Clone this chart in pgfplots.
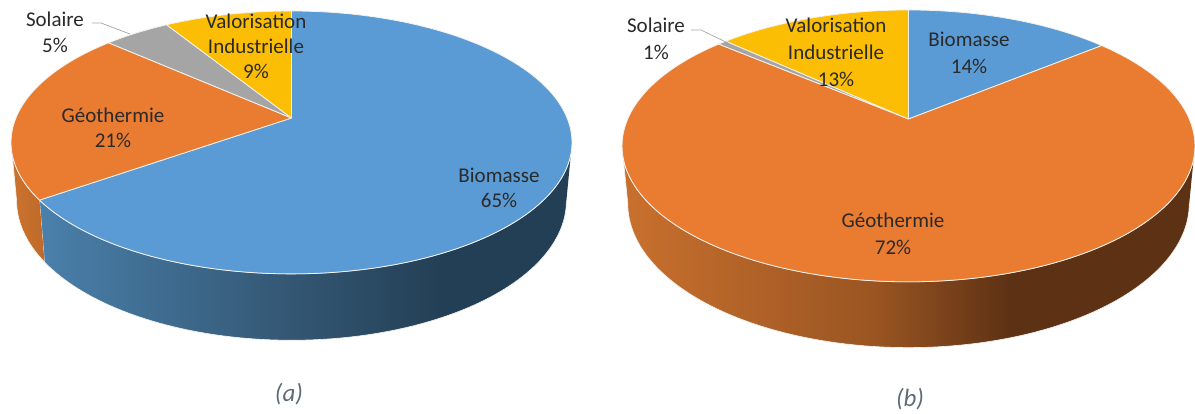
\documentclass[border=0pt]{standalone}
\usepackage{fontspec}
\setmainfont{Carlito}
\usepackage{pgfplots}
\pgfplotsset{compat=1.18}

\definecolor{cBio}{HTML}{5B9BD5}
\definecolor{cGeo}{HTML}{EA7C32}
\definecolor{cSol}{HTML}{A5A5A5}
\definecolor{cVal}{HTML}{FCBD05}
\definecolor{rimline}{HTML}{F4F2EE}
\definecolor{labelink}{HTML}{2A2A2A}
\definecolor{captionink}{HTML}{5F6B78}

\definecolor{bA}{HTML}{4A80AB}\definecolor{bB}{HTML}{335672}\definecolor{bC}{HTML}{233F55}
\definecolor{oA}{HTML}{C9702E}\definecolor{oB}{HTML}{9A5522}\definecolor{oC}{HTML}{5C3114}
\definecolor{pA}{HTML}{CC732E}\definecolor{pB}{HTML}{BF6A2A}

\pgfdeclarehorizontalshading{sideBioA}{100bp}{color(0bp)=(bA);color(25bp)=(bA);color(49bp)=(bB);color(63bp)=(bC);color(100bp)=(bC)}
\pgfdeclarehorizontalshading{sideGeoA}{100bp}{color(0bp)=(pA);color(25bp)=(pA);color(75bp)=(pB);color(100bp)=(pB)}
\pgfdeclarehorizontalshading{sideGeoB}{100bp}{color(0bp)=(oA);color(25bp)=(oA);color(47bp)=(oB);color(59bp)=(oC);color(100bp)=(oC)}

% Perspective projection of a flat disc: apex (cx,cy), half axes A and B, tilt k
\newcommand{\setpie}[8]{%
  \def\cx{#1}\def\cy{#2}\def\aA{#3}\def\aB{#4}\def\tilt{#5}%
  \def\drop{#6}\def\lowx{#7}\def\lowy{#8}%
  \pgfmathsetmacro{\thR}{acos(-\tilt)}%
  \pgfmathsetmacro{\thL}{360-\thR}%
  \gdef\cum{0}}

% Appends the arc from angle #1 to angle #2; #3 x scale, #4 y scale, #5 drop
\newcommand{\addarc}[5]{%
  \pgfmathtruncatemacro{\nseg}{ceil(abs(#2-#1)/1.5)+1}%
  \pgfmathsetmacro{\dth}{(#2-#1)/\nseg}%
  \pgfplotsforeachungrouped \ii in {0,...,\nseg}{%
    \pgfmathsetmacro{\th}{#1+\dth*\ii}%
    \pgfmathsetmacro{\den}{1+\tilt*cos(\th)}%
    \pgfmathsetmacro{\px}{\cx+#3*\aA*sin(\th)/\den}%
    \pgfmathsetmacro{\py}{\cy+#4*\aB*cos(\th)/\den-#5}%
    \xdef\coordlist{\coordlist (\px,\py)}%
  }}

\def\plotlist#1{\expandafter\plotlistA\expandafter{\coordlist}{#1}}
\def\plotlistA#1#2{\addplot[#2] coordinates {#1 };}

% Upper face of a slice worth #1 percent
\newcommand{\topslice}[2]{%
  \pgfmathsetmacro{\thA}{\cum*3.6}%
  \pgfmathsetmacro{\thB}{(\cum+#1)*3.6}%
  \xdef\coordlist{(\cx,\cy)}%
  \addarc{\thA}{\thB}{1}{1}{0}%
  \xdef\coordlist{\coordlist (\cx,\cy)}%
  \plotlist{fill=#2,draw=rimline,line width=0.8pt,line join=round}%
  \pgfmathsetmacro{\newcum}{\cum+#1}\xdef\cum{\newcum}}

% Outer wall of a slice worth #1 percent, where it faces the viewer
\newcommand{\sideslice}[2]{%
  \pgfmathsetmacro{\thA}{max(\cum*3.6,\thR)}%
  \pgfmathsetmacro{\thB}{min((\cum+#1)*3.6,\thL)}%
  \pgfmathparse{\thB>\thA ? 1 : 0}%
  \pgfmathtruncatemacro{\facing}{\pgfmathresult}%
  \ifnum\facing>0
    \gdef\coordlist{}%
    \addarc{\thA}{\thB}{1}{1}{0}%
    \addarc{\thB}{\thA}{\lowx}{\lowy}{\drop}%
    \plotlist{shading=#2,draw=rimline,line width=0.6pt,line join=round}%
  \fi
  \pgfmathsetmacro{\newcum}{\cum+#1}\xdef\cum{\newcum}}

\begin{document}
\begin{tikzpicture}[x=1pt,y=1pt]
\path[use as bounding box] (0,0) rectangle (1195,414);
\begin{axis}[
  at={(0,0)},anchor=south west,
  scale only axis,width=1195pt,height=414pt,
  xmin=0,xmax=1195,ymin=0,ymax=414,
  hide axis,clip=false,
  nodes={font=\fontsize{21}{25}\selectfont,text=labelink,align=center},
]
% (a)
\setpie{291.5}{296}{275.6}{126.9}{0.186}{57}{0.98}{1.06}
\sideslice{65.2}{sideBioA}
\sideslice{21.4}{sideGeoA}
\gdef\cum{0}
\topslice{65.2}{cBio}
\topslice{21.4}{cGeo}
\topslice{4.6}{cSol}
\topslice{8.8}{cVal}

% (b)
\setpie{908.5}{295}{280.8}{130.6}{0.198}{56}{0.98}{1.06}
\gdef\cum{14.1}
\sideslice{72.1}{sideGeoB}
\gdef\cum{0}
\topslice{14.1}{cBio}
\topslice{72.1}{cGeo}
\topslice{0.6}{cSol}
\topslice{13.2}{cVal}

% leader lines of the two small slices
\addplot[gray!70,line width=0.7pt] coordinates {(92,391) (101,391) (130,380)};
\addplot[gray!70,line width=0.7pt] coordinates {(691,384) (701,384) (728,371)};

% labels
\node at (axis cs:55,382) {Solaire\\[1pt]5\%};
\node at (axis cs:256,368) {Valorisation\\Industrielle\\9\%};
\node at (axis cs:113,286) {Géothermie\\21\%};
\node at (axis cs:499,226) {Biomasse\\65\%};
\node at (axis cs:656,375) {Solaire\\[2pt]1\%};
\node at (axis cs:836,362) {Valorisation\\[2pt]Industrielle\\[2pt]13\%};
\node at (axis cs:969,361) {Biomasse\\[2pt]14\%};
\node at (axis cs:893,180) {Géothermie\\[2pt]72\%};
\node[text=captionink,font=\fontsize{25}{28}\selectfont\itshape] at (axis cs:289,20) {(a)};
\node[text=captionink,font=\fontsize{25}{28}\selectfont\itshape] at (axis cs:910,15) {(b)};
\end{axis}
\end{tikzpicture}
\end{document}
